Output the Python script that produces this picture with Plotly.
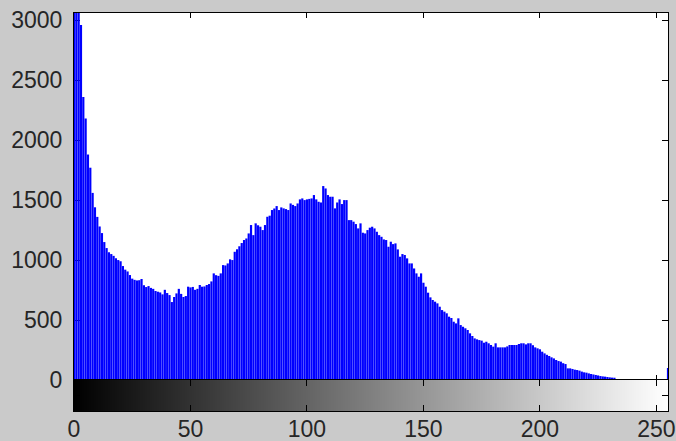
import plotly.graph_objects as go

# Grey-level bins (0..255) and pixel counts per bin
levels = list(range(256))
counts = [
    6000, 4200, 3400, 2960, 2360, 2180, 1880, 1770, 1560, 1440,
    1360, 1280, 1225, 1150, 1100, 1065, 1050, 1035, 1015, 1000,
    990, 950, 920, 905, 875, 845, 835, 830, 832, 842,
    790, 775, 783, 768, 760, 742, 736, 730, 714, 752,
    725, 708, 650, 692, 722, 760, 718, 692, 700, 778,
    772, 776, 752, 760, 792, 778, 780, 792, 800, 822,
    889, 874, 868, 889, 958, 955, 972, 1006, 1000, 1069,
    1090, 1115, 1142, 1167, 1180, 1222, 1292, 1208, 1306, 1290,
    1278, 1250, 1292, 1361, 1370, 1417, 1430, 1450, 1417, 1439,
    1431, 1425, 1417, 1472, 1460, 1450, 1472, 1506, 1514, 1500,
    1506, 1510, 1514, 1542, 1506, 1486, 1480, 1617, 1597, 1542,
    1528, 1528, 1431, 1480, 1506, 1467, 1500, 1500, 1333, 1333,
    1320, 1300, 1264, 1306, 1228, 1222, 1250, 1270, 1278, 1264,
    1236, 1208, 1194, 1172, 1167, 1111, 1153, 1133, 1139, 1089,
    1028, 1050, 1042, 1014, 972, 972, 930, 889, 861, 889,
    811, 778, 728, 689, 667, 653, 639, 611, 583, 570,
    556, 528, 517, 486, 472, 514, 458, 444, 431, 417,
    389, 367, 347, 339, 333, 328, 311, 319, 306, 292,
    278, 306, 272, 272, 272, 272, 280, 292, 292, 292,
    292, 300, 306, 306, 297, 306, 306, 290, 272, 264,
    256, 236, 222, 210, 200, 189, 180, 167, 158, 153,
    140, 133, 97, 97, 92, 86, 83, 78, 70, 64,
    61, 55, 50, 46, 42, 38, 33, 30, 28, 25,
    22, 20, 19, 4, 3, 2, 2, 1, 1, 1,
    1, 0, 0, 0, 0, 0, 0, 0, 0, 0,
    0, 0, 0, 0, 0, 100,
]

y_ticks = [0, 500, 1000, 1500, 2000, 2500, 3000]
x_ticks = [0, 50, 100, 150, 200, 250]

tick_font = dict(family="Liberation Sans, Arial, sans-serif", size=23, color="#262626")

fig = go.Figure()

# each bar slightly narrower than its bin, leaving a thin gap between bins
fig.add_trace(go.Bar(
    x=levels, y=counts, width=0.94,
    marker=dict(color="#0000ff", line=dict(width=0)),
    xaxis="x", yaxis="y",
    hoverinfo="x+y",
))

# grey-level ramp under the histogram
fig.add_trace(go.Heatmap(
    x=levels, y=[0.5], z=[levels],
    colorscale=[[0, "#000000"], [1, "#ffffff"]],
    zmin=0, zmax=255, showscale=False,
    xaxis="x2", yaxis="y2", hoverinfo="skip",
))

axis_common = dict(
    showgrid=False, zeroline=False, showline=True, linecolor="black",
    linewidth=1, mirror="ticks", ticks="inside", tickcolor="black",
    tickwidth=1, automargin=False,
)

fig.update_layout(
    width=676, height=441,
    margin=dict(l=74, r=8, t=13, b=30),
    paper_bgcolor="#cacaca",
    plot_bgcolor="#ffffff",
    showlegend=False,
    bargap=0.001, bargroupgap=0,
    xaxis=dict(
        **axis_common, range=[0, 255], tickvals=x_ticks, ticklen=5,
        showticklabels=False, anchor="y", domain=[0, 1], layer="below traces",
    ),
    yaxis=dict(
        **axis_common, range=[0, 3060], tickvals=y_ticks, ticklen=6,
        tickfont=tick_font, domain=[0.0779, 1], anchor="x",
        layer="below traces", ticklabelstandoff=6,
    ),
    xaxis2=dict(
        **axis_common, range=[0, 255], tickvals=x_ticks, ticklen=6,
        tickfont=tick_font, anchor="y2", domain=[0, 1],
        ticklabelstandoff=-3,
    ),
    yaxis2=dict(
        **axis_common, range=[0, 1], tickvals=[0.5], ticklen=6,
        showticklabels=False, domain=[0, 0.0779], anchor="x2",
    ),
)

fig.write_html("out.html")
